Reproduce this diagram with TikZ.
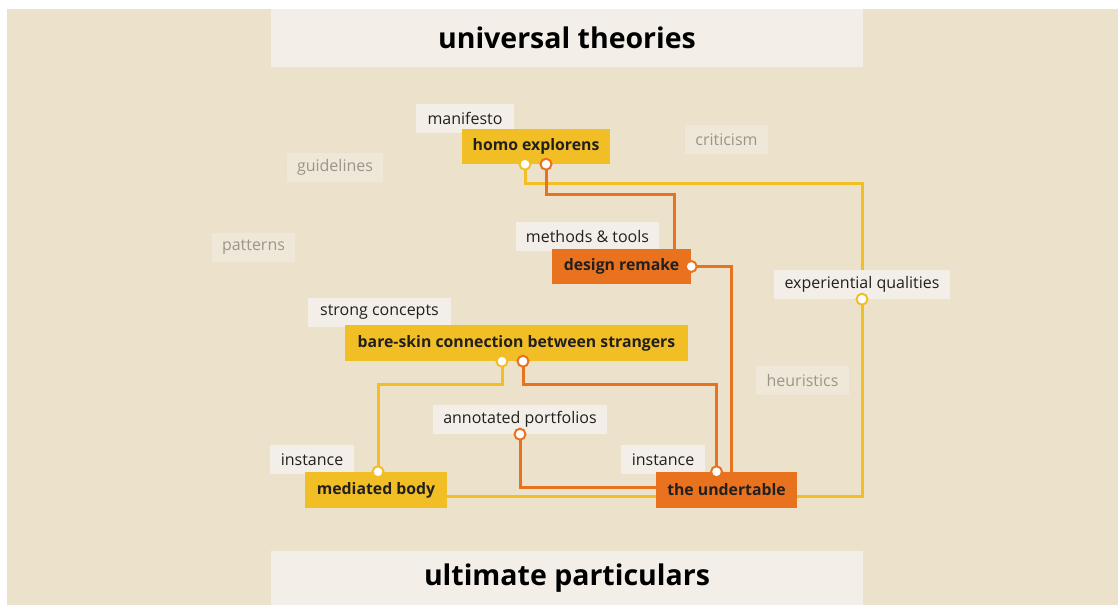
\documentclass[tikz,border=0pt]{standalone}
\usepackage{fontspec}
\setmainfont{Open Sans}
\usetikzlibrary{calc}
\definecolor{paper}{RGB}{236,225,203}
\definecolor{tagbg}{RGB}{243,239,232}
\definecolor{faintbg}{RGB}{239,231,216}
\definecolor{faintink}{RGB}{155,149,140}
\definecolor{ink}{RGB}{34,32,30}
\definecolor{ochre}{RGB}{242,190,38}
\definecolor{rust}{RGB}{233,114,30}
\begin{document}
\begin{tikzpicture}[x=1pt, y=-1pt,
    tag/.style={fill=tagbg, text=ink, inner sep=0pt, minimum height=29, font=\fontsize{16}{18}\selectfont},
    faint/.style={tag, fill=faintbg, text=faintink},
    box/.style={inner sep=0pt, minimum height=35, text=ink, font=\bfseries\fontsize{15.8}{18}\selectfont},
    ybox/.style={box, fill=ochre},
    obox/.style={box, fill=rust},
    title/.style={fill=tagbg, text=black, inner sep=0pt, minimum width=592, font=\bfseries\fontsize{28.5}{32}\selectfont},
    yline/.style={draw=ochre, line width=3pt},
    oline/.style={draw=rust, line width=3pt},
    yport/.style={circle, draw=ochre, fill=white, line width=2pt, minimum size=11, inner sep=0pt},
    oport/.style={yport, draw=rust}]
    \useasboundingbox (0,0) rectangle (1118,605);
    \fill[white] (0,0) rectangle (1118,605);
    \fill[paper] (7,9) rectangle (1118,605);

    \node[title, minimum height=58] (top) at (567,38) {universal theories};
    \node[title, minimum height=54] (bot) at (567,578) {ultimate particulars};

    \node[faint, minimum width=83] (crit) at (726.5,139.5) {criticism};
    \node[faint, minimum width=96] (guide) at (335,167.5) {guidelines};
    \node[faint, minimum width=83] (patt) at (253.5,247.5) {patterns};
    \node[faint, minimum width=93] (heur) at (802.5,380) {heuristics};

    \node[tag, minimum width=98] (t1) at (465,118) {manifesto};
    \node[tag, minimum width=143] (t2) at (587.5,236.5) {methods \& tools};
    \node[tag, minimum width=176] (eq) at (862,284.5) {experiential qualities};
    \node[tag, minimum width=143] (t3) at (379.5,312.5) {strong concepts};
    \node[tag, minimum width=174] (ap) at (520,419.5) {annotated portfolios};
    \node[tag, minimum width=84] (t4) at (312,459.5) {instance};
    \node[tag, minimum width=84] (t5) at (663,459.5) {instance};

    \node[ybox, minimum width=148] (homo) at (536,146.5) {homo explorens};
    \node[obox, minimum width=139] (remake) at (621.5,266.5) {design remake};
    \node[ybox, minimum width=343, minimum height=36] (skin) at (516.5,343) {bare-skin connection between strangers};
    \node[ybox, minimum width=142, minimum height=36] (med) at (376,490) {mediated body};
    \node[obox, minimum width=141, minimum height=36] (under) at (726.5,490) {the undertable};

    \coordinate (hoY) at ($(homo.south)+(-11,0)$);
    \coordinate (hoO) at ($(homo.south)+(10,0)$);
    \coordinate (reO) at (remake.east);
    \coordinate (eqY) at (eq.south);
    \coordinate (skY) at ($(skin.south)+(-14.5,0)$);
    \coordinate (skO) at ($(skin.south)+(6.5,0)$);
    \coordinate (apO) at (ap.south);
    \coordinate (meY) at ($(med.north)+(2,0)$);
    \coordinate (unO) at ($(under.north)+(-10,0)$);

    \draw[yline] (hoY) -- ++(0,19) -| (eq.north);
    \draw[oline] (hoO) -- ++(0,30) -| ($(remake.north)+(52.5,0)$);
    \draw[oline] (reO) -| ($(under.north)+(4.5,0)$);
    \draw[yline] (eqY) |- ($(under.east)+(0,6)$);
    \draw[yline] (skY) -- ++(0,23) -| (meY);
    \draw[oline] (skO) -- ++(0,23) -| (unO);
    \draw[oline] (apO) |- ($(under.west)+(0,-3)$);
    \draw[yline] ($(med.east)+(0,6)$) -- ($(under.west)+(0,6)$);

    \foreach \p in {hoY,eqY,skY,meY}
        \node[yport] at (\p) {};
    \foreach \p in {hoO,reO,skO,apO,unO}
        \node[oport] at (\p) {};
\end{tikzpicture}
\end{document}
